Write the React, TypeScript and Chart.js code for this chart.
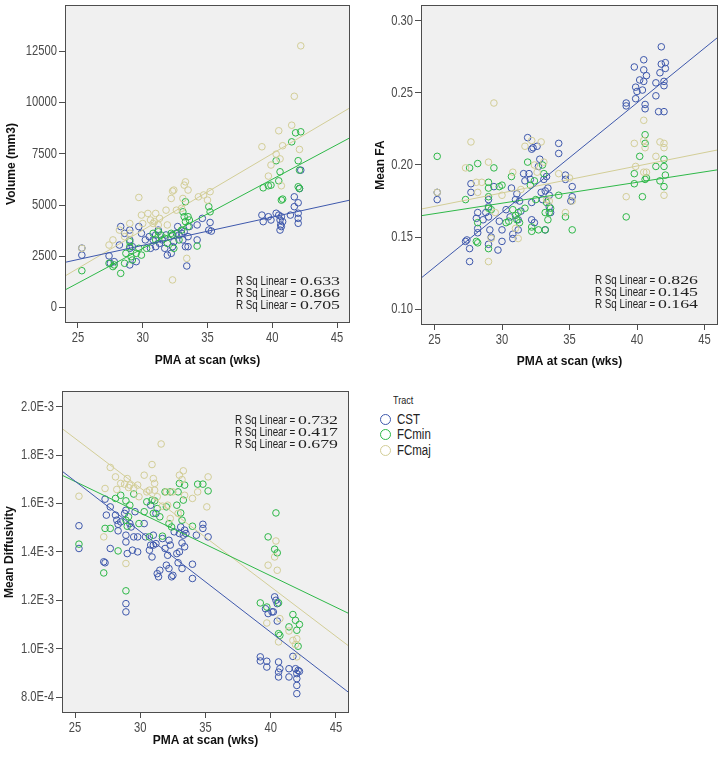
import { useEffect, useRef } from "react";
import { Chart, registerables } from "chart.js";

Chart.register(...registerables);

// ---------- shared ----------
const TRACTS = ["CST", "FCmin", "FCmaj"];
const COLORS = ["#3E58AC", "#2EB848", "#D3CE97"];
const X_TICKS = [25, 30, 35, 40, 45];
const X_TICK_LABELS = ["25", "30", "35", "40", "45"];
const FIT_X = [24, 46];
const X_TITLE = "PMA at scan (wks)";

// ---------- Volume panel ----------
const volCST = [[25.3,2900],[25.3,2560],[27.4,2520],[27.5,2160],[27.8,2240],[28.3,3950],[28.6,3620],[28.2,3050],[29.0,3780],[29.0,3300],[29.0,2890],[29.0,2080],[29.2,2970],[29.5,2240],[29.7,3950],[29.9,3620],[30.2,3300],[30.5,3460],[30.6,2890],[30.8,3300],[31.0,3540],[31.0,2970],[31.2,3780],[31.3,3130],[31.5,3300],[31.7,2890],[31.8,3540],[31.9,2560],[32.2,2645],[32.3,2970],[32.3,3540],[32.4,3215],[32.6,3620],[32.7,3950],[32.8,3540],[33.0,3620],[33.1,3300],[33.2,3700],[33.3,2970],[33.4,2030],[33.5,3460],[33.5,2970],[33.6,3950],[34.2,3300],[34.2,4030],[34.6,4350],[35.1,3780],[35.2,4150],[35.3,3730],[39.2,4510],[39.3,4190],[39.7,4430],[39.9,4270],[40.3,4600],[40.5,4510],[40.6,4270],[40.6,3780],[40.7,4430],[40.65,4030],[40.7,3950],[40.8,4190],[41.4,4510],[41.7,5400],[41.7,4920],[42.0,5110],[42.0,4600],[42.0,4350],[42.0,4110],[42.2,6700],[42.1,5800]];
const volFCmin = [[25.3,1800],[27.4,2160],[27.7,2000],[27.8,2080],[28.3,1670],[28.6,2160],[28.7,2645],[29.0,2970],[29.0,3215],[29.1,2480],[29.2,2320],[29.5,2645],[29.7,2890],[29.9,2560],[30.3,2890],[30.8,3620],[31.0,3300],[31.2,3700],[31.4,3540],[31.7,3380],[31.9,3130],[32.2,3620],[32.3,3540],[32.4,2890],[32.8,3300],[33.0,3780],[33.1,4670],[33.2,4430],[33.3,5160],[33.3,4190],[33.5,4430],[33.6,4270],[33.5,3950],[34.2,3000],[35.1,4920],[35.2,4670],[39.3,5840],[39.7,5940],[39.9,5970],[40.3,7160],[40.5,6180],[40.6,6620],[40.7,5240],[40.8,5290],[41.5,8080],[41.8,8520],[42.0,7160],[42.0,5890],[42.2,8570],[42.1,6700],[42.1,5810]];
const volFCmaj = [[25.3,2890],[27.4,3050],[27.7,3300],[28.2,3780],[28.6,3460],[29.0,4100],[29.0,3620],[29.7,5370],[29.9,4510],[30.0,4100],[30.4,4590],[30.6,4270],[30.8,4100],[30.9,4190],[31.0,4590],[31.2,4030],[31.3,4350],[31.8,4750],[31.9,4030],[32.2,5320],[32.3,5680],[32.4,5730],[32.3,1350],[32.6,4750],[33.0,4840],[33.1,5320],[33.2,5970],[33.3,6130],[33.4,2400],[33.5,5730],[34.3,5400],[34.7,5490],[35.0,5240],[35.2,5650],[39.2,7840],[39.7,6410],[39.9,6950],[40.3,7480],[40.5,8620],[40.6,7250],[40.7,5940],[40.8,7890],[41.5,8890],[41.7,10300],[42.1,7710],[42.2,12760]];
const volFit = [[2207, 5240], [860, 8280], [1540, 9740]];
const volTicks = [0, 2500, 5000, 7500, 10000, 12500];
const volTickLabels = ["0", "2500", "5000", "7500", "10000", "12500"];
const volR2 = ["0.633", "0.866", "0.705"];

// ---------- Mean FA panel ----------
const faCST = [[25.2,0.181],[25.2,0.176],[27.3,0.147],[27.4,0.148],[27.6,0.142],[27.6,0.133],[27.7,0.187],[27.7,0.181],[28.1,0.163],[28.2,0.167],[28.2,0.156],[28.2,0.153],[28.6,0.162],[28.8,0.167],[29.0,0.176],[29.0,0.171],[29.0,0.164],[29.0,0.145],[29.1,0.155],[29.2,0.150],[29.4,0.185],[29.7,0.141],[29.8,0.161],[30.0,0.155],[30.0,0.147],[30.3,0.169],[30.6,0.164],[30.7,0.184],[30.8,0.152],[30.8,0.149],[31.0,0.176],[31.1,0.180],[31.2,0.162],[31.2,0.155],[31.3,0.175],[31.4,0.168],[31.6,0.194],[31.7,0.189],[31.9,0.219],[32.0,0.194],[32.1,0.190],[32.2,0.211],[32.2,0.174],[32.2,0.162],[32.3,0.212],[32.4,0.160],[32.6,0.213],[32.7,0.199],[32.8,0.204],[32.9,0.181],[33.0,0.176],[33.1,0.190],[33.2,0.182],[33.2,0.155],[33.3,0.192],[33.4,0.184],[33.5,0.179],[33.5,0.171],[33.6,0.167],[34.2,0.215],[34.2,0.208],[34.7,0.193],[34.7,0.190],[35.1,0.175],[35.2,0.185],[35.2,0.178],[39.2,0.243],[39.2,0.241],[39.8,0.268],[39.9,0.246],[39.9,0.254],[40.0,0.251],[40.2,0.259],[40.4,0.252],[40.5,0.273],[40.5,0.266],[40.5,0.258],[40.6,0.239],[40.6,0.242],[40.7,0.262],[41.4,0.257],[41.4,0.248],[41.6,0.237],[41.7,0.264],[41.8,0.282],[41.8,0.270],[42.0,0.258],[42.0,0.255],[42.0,0.237],[42.1,0.271],[42.1,0.267]];
const faFCmin = [[25.2,0.206],[27.3,0.176],[27.6,0.198],[28.2,0.201],[28.2,0.160],[28.1,0.147],[28.2,0.146],[29.0,0.188],[29.0,0.184],[29.0,0.178],[29.0,0.170],[29.0,0.142],[29.2,0.169],[29.4,0.198],[29.8,0.185],[30.0,0.186],[30.3,0.160],[30.5,0.161],[30.7,0.192],[30.8,0.169],[31.0,0.165],[31.1,0.162],[31.2,0.167],[31.3,0.160],[31.7,0.170],[31.9,0.202],[32.1,0.186],[32.2,0.157],[32.2,0.154],[32.4,0.189],[32.5,0.176],[32.7,0.155],[33.0,0.200],[33.1,0.194],[33.2,0.167],[33.2,0.155],[33.3,0.174],[33.4,0.162],[33.5,0.167],[33.6,0.170],[34.2,0.179],[34.7,0.164],[35.2,0.155],[39.2,0.164],[39.8,0.194],[39.8,0.187],[40.2,0.206],[40.4,0.178],[40.6,0.221],[40.6,0.215],[40.6,0.190],[40.7,0.191],[41.4,0.199],[41.7,0.189],[42.0,0.204],[42.0,0.199],[42.0,0.185],[42.1,0.193]];
const faFCmaj = [[25.2,0.181],[27.3,0.198],[27.7,0.216],[28.1,0.188],[28.2,0.181],[28.5,0.188],[29.0,0.202],[29.0,0.133],[29.4,0.243],[29.5,0.167],[29.2,0.149],[30.0,0.179],[30.8,0.195],[31.0,0.156],[31.2,0.149],[31.4,0.183],[31.7,0.213],[32.2,0.217],[32.4,0.200],[32.6,0.195],[32.9,0.216],[33.1,0.202],[33.3,0.176],[33.5,0.175],[34.2,0.194],[34.7,0.167],[35.0,0.191],[35.2,0.175],[39.2,0.178],[39.8,0.215],[39.9,0.199],[40.5,0.231],[40.5,0.217],[40.6,0.212],[40.7,0.195],[40.5,0.195],[41.4,0.206],[41.7,0.216],[42.0,0.215],[42.0,0.212],[42.0,0.179]];
const faFit = [[0.1215, 0.2887], [0.1648, 0.1967], [0.1694, 0.2105]];
const faTicks = [0.1, 0.15, 0.2, 0.25, 0.3];
const faTickLabels = ["0.10", "0.15", "0.20", "0.25", "0.30"];
const faR2 = ["0.826", "0.145", "0.164"];

// ---------- Mean Diffusivity panel (values in units of 1E-3) ----------
const MD_UNIT = 1e-3;
const mdCST = [[25.3,1.508],[25.3,1.414],[27.2,1.359],[27.3,1.355],[27.3,1.618],[27.4,1.552],[27.7,1.586],[27.7,1.414],[28.1,1.552],[28.2,1.531],[28.3,1.487],[28.3,1.514],[28.5,1.524],[28.8,1.559],[28.9,1.572],[28.9,1.469],[28.9,1.441],[28.9,1.186],[28.9,1.152],[29.0,1.393],[29.2,1.517],[29.3,1.503],[29.4,1.407],[29.5,1.462],[29.6,1.566],[29.8,1.400],[29.8,1.462],[30.3,1.517],[30.4,1.462],[30.7,1.407],[30.8,1.428],[30.8,1.593],[30.9,1.379],[31.0,1.469],[31.0,1.428],[31.2,1.559],[31.2,1.434],[31.3,1.310],[31.4,1.297],[31.5,1.324],[31.7,1.455],[31.9,1.414],[32.0,1.345],[32.1,1.386],[32.2,1.331],[32.2,1.448],[32.3,1.428],[32.4,1.297],[32.5,1.303],[32.6,1.483],[32.8,1.393],[32.9,1.355],[33.0,1.400],[33.0,1.476],[33.1,1.503],[33.2,1.437],[33.2,1.331],[33.3,1.469],[33.4,1.421],[33.4,1.490],[33.5,1.476],[34.0,1.349],[34.0,1.290],[34.3,1.469],[34.8,1.514],[34.8,1.497],[35.2,1.462],[39.2,0.966],[39.2,0.949],[39.7,0.948],[39.7,0.924],[39.8,1.145],[39.6,1.165],[40.1,1.152],[40.2,1.152],[40.3,1.214],[40.4,1.200],[40.5,1.186],[40.5,1.114],[40.6,0.903],[40.6,0.883],[40.6,0.945],[40.7,0.917],[41.4,0.917],[41.4,0.883],[41.7,0.968],[41.9,0.917],[42.0,0.897],[42.0,0.876],[42.0,0.848],[42.0,0.814],[42.1,0.910],[42.2,0.906]];
const mdFCmin = [[25.3,1.432],[27.2,1.313],[27.3,1.497],[27.7,1.497],[28.1,1.621],[28.3,1.404],[28.5,1.634],[28.9,1.611],[28.9,1.531],[28.9,1.239],[29.0,1.506],[29.1,1.545],[29.2,1.593],[29.5,1.639],[29.9,1.517],[30.3,1.566],[30.5,1.607],[30.7,1.462],[30.9,1.614],[31.0,1.559],[31.1,1.611],[31.3,1.579],[31.5,1.545],[31.7,1.465],[31.9,1.648],[32.0,1.586],[32.2,1.517],[32.3,1.648],[32.4,1.503],[32.8,1.593],[32.9,1.648],[33.0,1.683],[33.1,1.561],[33.2,1.531],[33.3,1.614],[33.4,1.676],[34.0,1.506],[34.4,1.680],[34.8,1.680],[35.2,1.652],[39.2,1.189],[39.7,1.172],[39.8,1.462],[40.3,1.411],[40.4,1.561],[40.5,1.396],[40.6,1.062],[40.6,1.189],[40.7,1.055],[41.4,1.090],[41.7,1.141],[41.9,1.117],[42.0,1.076],[42.1,1.010],[42.2,1.100]];
const mdFCmaj = [[25.3,1.630],[27.2,1.462],[27.3,1.662],[27.7,1.749],[28.1,1.710],[28.2,1.658],[28.5,1.683],[28.8,1.680],[28.9,1.352],[29.0,1.703],[29.1,1.666],[29.2,1.676],[29.5,1.662],[29.8,1.676],[29.9,1.628],[30.3,1.717],[30.5,1.648],[30.7,1.655],[30.9,1.761],[31.0,1.703],[31.1,1.683],[31.1,1.655],[31.3,1.628],[31.6,1.846],[31.7,1.589],[32.0,1.648],[32.1,1.593],[32.3,1.538],[32.5,1.648],[32.9,1.559],[33.0,1.717],[33.2,1.699],[33.3,1.735],[33.4,1.634],[34.0,1.621],[34.4,1.648],[35.2,1.710],[35.1,1.586],[39.7,1.106],[39.8,1.345],[40.3,1.379],[40.4,1.445],[40.6,1.028],[40.5,1.324],[40.7,1.124],[41.4,1.073],[41.7,1.034],[42.0,1.041],[42.0,0.966],[41.9,1.017]];
const mdFit = [[1.734, 0.818], [1.717, 1.145], [1.910, 1.010]];
const mdTicks = [0.8, 1.0, 1.2, 1.4, 1.6, 1.8, 2.0];
const mdTickLabels = ["8.0E-4", "1.0E-3", "1.2E-3", "1.4E-3", "1.6E-3", "1.8E-3", "2.0E-3"];
const mdR2 = ["0.732", "0.417", "0.679"];

// ---------- fonts ----------
const SANS = '"Liberation Sans", Arial, sans-serif';
const SERIF = '"Liberation Serif", "Times New Roman", serif';
const NARROW_X = 0.8; // horizontal squeeze of the SPSS narrow labels

type Panel = {
  id: string;
  left: number; top: number; width: number; height: number;
  yAxisW: number; xAxisH: number; padTop: number; padRight: number;
  yMin: number; yMax: number; yTicks: number[]; yLabels: string[]; yTitle: string; yTitlePad: number;
  series: number[][][]; fits: number[][]; r2: string[]; unit: number;
  r2x: number; r2y: number; r2numX: number;
};

const PANELS: Panel[] = [
  { id: "vol", left: 0, top: 0, width: 360, height: 372, yAxisW: 65, xAxisH: 49, padTop: 5, padRight: 10,
    yMin: -750, yMax: 14750, yTicks: volTicks, yLabels: volTickLabels, yTitle: "Volume (mm3)", yTitlePad: 4,
    series: [volCST, volFCmin, volFCmaj], fits: volFit, r2: volR2, unit: 1,
    r2x: 236, r2y: 281, r2numX: 300 },
  { id: "fa", left: 369, top: 0, width: 354, height: 373, yAxisW: 52, xAxisH: 48, padTop: 5, padRight: 5,
    yMin: 0.089, yMax: 0.311, yTicks: faTicks, yLabels: faTickLabels, yTitle: "Mean FA", yTitlePad: 4,
    series: [faCST, faFCmin, faFCmaj], fits: faFit, r2: faR2, unit: 1,
    r2x: 226, r2y: 280, r2numX: 289 },
  { id: "md", left: 0, top: 380, width: 360, height: 372, yAxisW: 62, xAxisH: 39, padTop: 11, padRight: 11,
    yMin: 0.734, yMax: 2.065, yTicks: mdTicks, yLabels: mdTickLabels, yTitle: "Mean Diffusivity", yTitlePad: 2,
    series: [mdCST, mdFCmin, mdFCmaj], fits: mdFit, r2: mdR2, unit: MD_UNIT,
    r2x: 235, r2y: 40, r2numX: 298 },
];

function drawSqueezed(ctx: any, text: string, x: number, y: number, sx: number, align: string) {
  ctx.save();
  ctx.translate(x, y);
  ctx.scale(sx, 1);
  ctx.textAlign = align;
  ctx.fillText(text, 0, 0);
  ctx.restore();
}

const framePlugin = {
  id: "spssFrame",
  beforeDatasetsDraw(chart: any) {
    const { ctx, chartArea: a } = chart;
    ctx.save();
    ctx.fillStyle = "#F0F0F0";
    ctx.fillRect(a.left, a.top, a.right - a.left, a.bottom - a.top);
    ctx.restore();
  },
  afterDraw(chart: any, _args: any, opts: any) {
    const { ctx, chartArea: a } = chart;
    ctx.save();
    ctx.strokeStyle = "#4d4d4d";
    ctx.lineWidth = 1;
    ctx.strokeRect(Math.round(a.left) + 0.5, Math.round(a.top) + 0.5, Math.round(a.right - a.left) - 1, Math.round(a.bottom - a.top) - 1);

    // tick labels (SPSS narrow style), placed through the chart's own scales
    const xs = chart.scales.x;
    const ys = chart.scales.y;
    ctx.fillStyle = "#4a4a4a";
    ctx.font = "14px " + SANS;
    ctx.textBaseline = "middle";
    (opts.yTicks as number[]).forEach((v, i) => {
      const py = ys.getPixelForValue(v);
      drawSqueezed(ctx, opts.yLabels[i], a.left - 8, py, NARROW_X, "right");
    });
    ctx.textBaseline = "top";
    X_TICKS.forEach((v, i) => {
      const px = xs.getPixelForValue(v);
      drawSqueezed(ctx, X_TICK_LABELS[i], px, a.bottom + 8, NARROW_X, "center");
    });

    // R Sq annotations
    const lines: string[] = opts.r2 || [];
    ctx.fillStyle = "#222";
    ctx.textBaseline = "middle";
    lines.forEach((v, i) => {
      const y = opts.y + i * 12.2;
      ctx.save();
      ctx.font = "13px " + SANS;
      const lab = "R Sq Linear = ";
      const w = ctx.measureText(lab).width;
      ctx.translate(opts.x, y);
      ctx.scale(63 / w, 1);
      ctx.textAlign = "left";
      ctx.fillText(lab, 0, 0);
      ctx.restore();
      ctx.save();
      ctx.font = "13px " + SERIF;
      const wn = ctx.measureText(v).width;
      ctx.translate(opts.numX, y + 0.5);
      ctx.scale(40 / wn, 1);
      ctx.textAlign = "left";
      ctx.fillText(v, 0, 0);
      ctx.restore();
    });
    ctx.restore();
  },
};

function PanelChart({ p }: { p: Panel }) {
  const ref = useRef<HTMLCanvasElement | null>(null);
  useEffect(() => {
    if (!ref.current) return;
    const datasets: any[] = [];
    p.fits.forEach((f, i) => {
      datasets.push({
        type: "scatter",
        label: TRACTS[i] + " fit",
        data: FIT_X.map((x, k) => ({ x, y: f[k] * p.unit })),
        showLine: true,
        borderColor: COLORS[i],
        borderWidth: 1,
        pointRadius: 0,
        order: 0,
      });
    });
    p.series.forEach((s, i) => {
      datasets.push({
        type: "scatter",
        label: TRACTS[i],
        data: s.map(([x, y]) => ({ x, y: y * p.unit })),
        showLine: false,
        pointRadius: 3.3,
        pointBorderWidth: 1,
        pointBackgroundColor: "rgba(0,0,0,0)",
        pointBorderColor: COLORS[i],
        borderColor: COLORS[i],
        order: 1 + (2 - i),
      });
    });
    const tickColor = "#4d4d4d";
    const chart = new Chart(ref.current, {
      type: "scatter",
      data: { datasets },
      options: {
        animation: false,
        responsive: false,
        devicePixelRatio: 1,
        layout: { padding: { top: p.padTop, right: p.padRight, left: 0, bottom: 0 } },
        plugins: {
          legend: { display: false },
          tooltip: { enabled: false },
          spssFrame: {
            r2: p.r2, x: p.r2x, y: p.r2y, numX: p.r2numX,
            yTicks: p.yTicks.map((v) => v * p.unit), yLabels: p.yLabels,
          },
        } as any,
        scales: {
          x: {
            type: "linear",
            min: FIT_X[0],
            max: FIT_X[1],
            afterBuildTicks: (s: any) => { s.ticks = X_TICKS.map((v) => ({ value: v })); },
            afterFit: (s: any) => { s.height = p.xAxisH; },
            ticks: { display: false },
            grid: { display: true, drawOnChartArea: false, drawTicks: true, tickLength: 5, color: tickColor },
            border: { display: false },
            title: { display: true, text: X_TITLE, font: { family: SANS, size: 12, weight: "bold" }, color: "#111", padding: { top: 4, bottom: 4 } },
          },
          y: {
            type: "linear",
            min: p.yMin * p.unit,
            max: p.yMax * p.unit,
            afterBuildTicks: (s: any) => { s.ticks = p.yTicks.map((v) => ({ value: v * p.unit })); },
            afterFit: (s: any) => { s.width = p.yAxisW; },
            ticks: { display: false },
            grid: { display: true, drawOnChartArea: false, drawTicks: true, tickLength: 6, color: tickColor },
            border: { display: false },
            title: { display: true, text: p.yTitle, font: { family: SANS, size: 12, weight: "bold" }, color: "#111", padding: { top: p.yTitlePad, bottom: 4 } },
          },
        },
      } as any,
      plugins: [framePlugin as any],
    });
    return () => chart.destroy();
  }, [p]);
  return (
    <canvas
      ref={ref}
      width={p.width}
      height={p.height}
      style={{ position: "absolute", left: p.left, top: p.top, width: p.width, height: p.height }}
    />
  );
}

const LEGEND_TITLE = "Tract";
const LEGEND_Y = [419.5, 434.8, 450.8];

export default function App() {
  return (
    <div style={{ position: "fixed", left: 0, top: 0, width: 723, height: 763, background: "#fff", overflow: "hidden" }}>
      {PANELS.map((p) => (
        <PanelChart key={p.id} p={p} />
      ))}
      <div style={{ position: "absolute", left: 393, top: 394, font: "11px " + SANS, color: "#222", lineHeight: "13px", transform: "scaleX(0.82)", transformOrigin: "0 0" }}>
        {LEGEND_TITLE}
      </div>
      {TRACTS.map((t, i) => (
        <div key={t}>
          <div
            style={{
              position: "absolute",
              left: 385 - 5.5,
              top: LEGEND_Y[i] - 5.5,
              width: 11,
              height: 11,
              borderRadius: "50%",
              border: "1px solid " + COLORS[i],
              boxSizing: "border-box",
            }}
          />
          <div style={{ position: "absolute", left: 397, top: LEGEND_Y[i] - 8.5, font: "14px " + SANS, color: "#222", lineHeight: "16px", transform: "scaleX(0.82)", transformOrigin: "0 0" }}>
            {t}
          </div>
        </div>
      ))}
    </div>
  );
}
